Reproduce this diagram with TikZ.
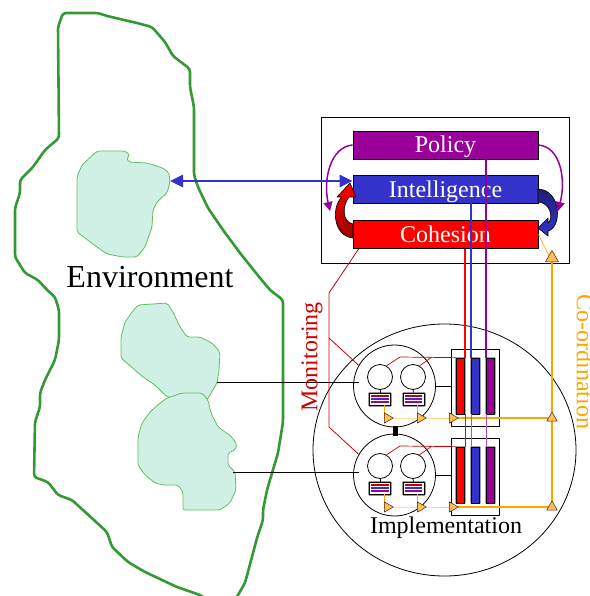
\documentclass[tikz,border=0pt]{standalone}
\usepackage{fontspec}
\setmainfont{Liberation Serif}
\usetikzlibrary{arrows.meta,shapes.geometric}
\definecolor{envgreen}{RGB}{51,153,51}
\definecolor{blobline}{RGB}{102,187,102}
\definecolor{blobfill}{RGB}{208,240,230}
\definecolor{polpurple}{RGB}{153,0,153}
\definecolor{intblue}{RGB}{51,51,204}
\definecolor{cohred}{RGB}{255,0,0}
\definecolor{monred}{RGB}{204,0,0}
\definecolor{coord}{RGB}{255,165,0}
\definecolor{coordlight}{RGB}{255,204,120}
\definecolor{trifill}{RGB}{255,190,90}
\begin{document}
\begin{tikzpicture}[x=1pt, y=-1pt, line join=round,
	bar/.style={draw=black, line width=0.8pt, minimum width=185pt, minimum height=28pt, inner sep=0pt, text=white, text height=20pt, text depth=4pt, font=\fontsize{24}{24}\selectfont},
	opsbar/.style={draw=black, line width=0.7pt, minimum width=8pt, minimum height=56pt, inner sep=0pt, preaction={draw=black!35, line width=2.6pt}},
	film/.style={draw=black, fill=white, line width=0.7pt, minimum width=21pt, minimum height=12pt, inner sep=0pt, preaction={draw=black!40, line width=3pt}},
	eye/.style={circle, draw=black, fill=white, line width=0.8pt, minimum size=25pt, inner sep=0pt},
	blob/.style={draw=blobline, fill=blobfill, line width=0.8pt, rounded corners=2pt},
	rtri/.style={regular polygon, regular polygon sides=3, shape border rotate=-90, draw=black!70!orange, fill=trifill, line width=0.5pt, minimum size=12pt, inner sep=0pt},
	utri/.style={rtri, shape border rotate=0},
	big/.style={font=\fontsize{24}{24}\selectfont}]
	\useasboundingbox (0,0) rectangle (589,596);
	\clip (0,0) rectangle (589,596);
	% environment
	\draw[envgreen, line width=2.6pt, rounded corners=3pt] (208,600) -- (200,595) -- (177,587) -- (145,572) -- (128,562) -- (112,547) -- (107,532) -- (72,500) -- (58,495) -- (48,482) -- (34,477) -- (35,422) -- (40,407) -- (40,393) -- (45,380) -- (55,360) -- (59,340) -- (59,310) -- (55,297) -- (47,290) -- (38,280) -- (25,273) -- (15,257) -- (15,208) -- (20,193) -- (20,180) -- (33,167) -- (45,150) -- (59,138) -- (58,27) -- (63,13) -- (98,13) -- (107,16) -- (137,23) -- (152,27) -- (165,42) -- (173,56) -- (190,69) -- (190,87) -- (194,107) -- (194,175) -- (198,187) -- (208,208) -- (223,230) -- (240,253) -- (260,278) -- (270,290) -- (283,300) -- (283,422) -- (278,453) -- (267,490) -- (263,510) -- (263,520) -- (257,538) -- (245,583) -- (235,600);
	\draw[blob] (97,151) -- (125,151) -- (130,155) -- (127,157) -- (128,162) -- (147,163) -- (163,168) -- (169,173) -- (170,182) -- (167,193) -- (157,202) -- (153,210) -- (152,227) -- (145,247) -- (137,257) -- (123,257) -- (107,254) -- (97,247) -- (77,232) -- (77,177) -- (82,165) -- cycle;
	\draw[blob] (138,305) -- (167,303) -- (173,312) -- (180,327) -- (187,337) -- (200,337) -- (212,343) -- (220,352) -- (219,370) -- (217,383) -- (207,400) -- (167,397) -- (155,385) -- (143,377) -- (121,358) -- (121,337) -- (125,322) -- (132,312) -- cycle;
	\draw[blob] (167,398) -- (182,393) -- (202,393) -- (208,400) -- (211,413) -- (218,427) -- (232,437) -- (237,445) -- (235,450) -- (228,453) -- (228,465) -- (235,472) -- (236,490) -- (230,503) -- (220,510) -- (183,510) -- (183,492) -- (178,485) -- (163,485) -- (155,483) -- (145,475) -- (138,465) -- (138,437) -- (142,423) -- (150,412) -- (160,403) -- cycle;
	\node[font=\fontsize{32}{32}\selectfont] (envtext) at (150,277) {Environment};
	\node[draw, ellipse, line width=0.8pt, minimum width=263pt, minimum height=252pt, inner sep=0pt] (implzone) at (444.5,450) {};
	\node[big] (impltext) at (446,528) {Implementation};
	% management board
	\node[draw, fill=white, line width=0.8pt, minimum width=248pt, minimum height=146pt, inner sep=0pt] (board) at (445,190) {};
	\node[bar, fill=polpurple] (policy) at (445.5,145) {Policy};
	\node[bar, fill=intblue] (intel) at (445.5,189) {Intelligence};
	\node[bar, fill=cohred] (cohesion) at (445.5,234.5) {Cohesion};
	\path (330,211) coordinate (pL) (558,211) coordinate (pR);
	\draw[polpurple, line width=1.5pt, -{Triangle[length=9pt,width=9pt]}] (policy.west) .. controls (330,147) and (323,180) .. (pL);
	\draw[polpurple, line width=1.5pt, -{Triangle[length=9pt,width=9pt]}] (policy.east) .. controls (561,147) and (566,180) .. (pR);
	\draw[draw=black, line width=0.6pt, top color=cohred, bottom color=cohred!60!black] (353,238) .. controls (333,236) and (331,207) .. (342,197) -- (337,197) -- (350,183) -- (356,197) -- (349,197) .. controls (342,206) and (342,222) .. (353,224) -- cycle;
	\draw[draw=black, line width=0.6pt, top color=intblue!60!black, bottom color=intblue] (538,189) .. controls (562,190) and (562,228) .. (548,231) -- (548,236) -- (538,228) -- (548,218) -- (548,223) .. controls (553,220) and (552,203) .. (538,202) -- cycle;
	\path (170,181) coordinate (lake);
	\draw[intblue, line width=2.6pt, {Triangle[length=13pt,width=12pt]}-{Triangle[length=13pt,width=12pt]}] (lake) -- ([yshift=8pt]intel.west);
	% co-ordination bus
	\path (552,262) coordinate (hubpt) (552,507) coordinate (busend);
	\draw[coord, line width=0.6pt] (cohesion.east) -- (hubpt);
	\draw[coord, line width=1.2pt] (hubpt) -- (busend);
	\node[utri, minimum size=15pt, anchor=south] (hub) at (hubpt) {};
	% operational units
	\foreach \dy/\nm in {0/a,89/b}{
		\begin{scope}[shift={(0,\dy)}]
			\node[draw, fill=white, line width=0.8pt, minimum width=48pt, minimum height=77pt, inner sep=0pt] (ops\nm) at (475,387.5) {};
			\foreach \col/\xx/\bn in {cohred/460.5/red, intblue/475.5/blue, polpurple/490.5/purple}
				\node[opsbar, fill=\col] (\bn bar\nm) at (\xx,386) {};
			\node[circle, draw, fill=white, line width=0.8pt, minimum size=82pt, inner sep=0pt] (mod\nm) at (394.5,386) {};
			\node[eye] (eyeL\nm) at (380,377) {};
			\node[eye] (eyeR\nm) at (413,377) {};
			\node[film] (filmL\nm) at (380,399) {};
			\node[film] (filmR\nm) at (413.5,399) {};
			\foreach \e in {L,R}{
				\foreach \col/\off in {cohred!75!black/3, intblue/0, polpurple/-3}
					\draw[\col, line width=1.5pt] ([xshift=2pt,yshift=\off pt]film\e\nm.west) -- ([xshift=-2pt,yshift=\off pt]film\e\nm.east);
				\draw[line width=0.8pt] (eye\e\nm.south) -- (film\e\nm.north);}
			\draw[monred, line width=0.7pt] (eyeL\nm.60) -- (400,357) -- (redbar\nm.north west) (eyeR\nm.60) -- (432,357);
			\draw[line width=0.8pt] (mod\nm.east) -- (mod\nm.east -| ops\nm.west);
			\path (384,418) coordinate (k1\nm) (417,418) coordinate (k2\nm) (449,418) coordinate (k3\nm) (552,418) coordinate (kb\nm);
			\draw[coord, line width=0.7pt] (filmL\nm.south -| k1\nm) -- (k1\nm) (filmR\nm.south -| k2\nm) -- (k2\nm);
			\draw[coordlight, line width=0.9pt] (k1\nm) -- (k2\nm) -- (k3\nm);
			\draw[coord, line width=1.8pt] (k3\nm) -- (kb\nm);
			\foreach \i in {1,2,3}
				\node[rtri, anchor=west] (tri\i\nm) at (k\i\nm) {};
			\node[utri] (bustri\nm) at (kb\nm) {};
		\end{scope}}
	\node[fill=black, minimum width=5pt, minimum height=10pt, inner sep=0pt] (joint) at (395.5,431) {};
	\path (217,382) coordinate (envA) (233,472) coordinate (envB);
	\draw[line width=0.8pt] (envA) -- ([xshift=6pt]envA -| moda.west) (envB) -- ([xshift=6pt]envB -| modb.west);
	% channels from the board
	\draw[cohred, line width=2.6pt] (cohesion.south -| redbara.north east) -- (redbara.north east);
	\draw[intblue, line width=2.6pt] (intel.south -| bluebara.north west) -- (bluebara.north west);
	\draw[polpurple, line width=2.6pt] (policy.south -| purplebara.north west) -- (purplebara.north west);
	\draw[cohred, line width=0.6pt] (redbara.south east) -- (redbarb.north east);
	\draw[intblue!70, line width=0.6pt] (bluebara.south west) -- (bluebarb.north west);
	\draw[polpurple!70, line width=0.6pt] (purplebara.south west) -- (purplebarb.north west);
	% monitoring
	\path (329,293) coordinate (mk) (329,338) coordinate (mt) (329,427) coordinate (mb);
	\draw[monred, line width=0.8pt] ([xshift=6pt]cohesion.south west) -- (mk) -- (mb) -- (modb.150) (mt) -- (moda.150);
	\node[monred, rotate=90, big] (montext) at (312,357) {Monitoring};
	\node[coord, rotate=-90, big] (cotext) at (585,362) {Co-ordination};
\end{tikzpicture}
\end{document}
